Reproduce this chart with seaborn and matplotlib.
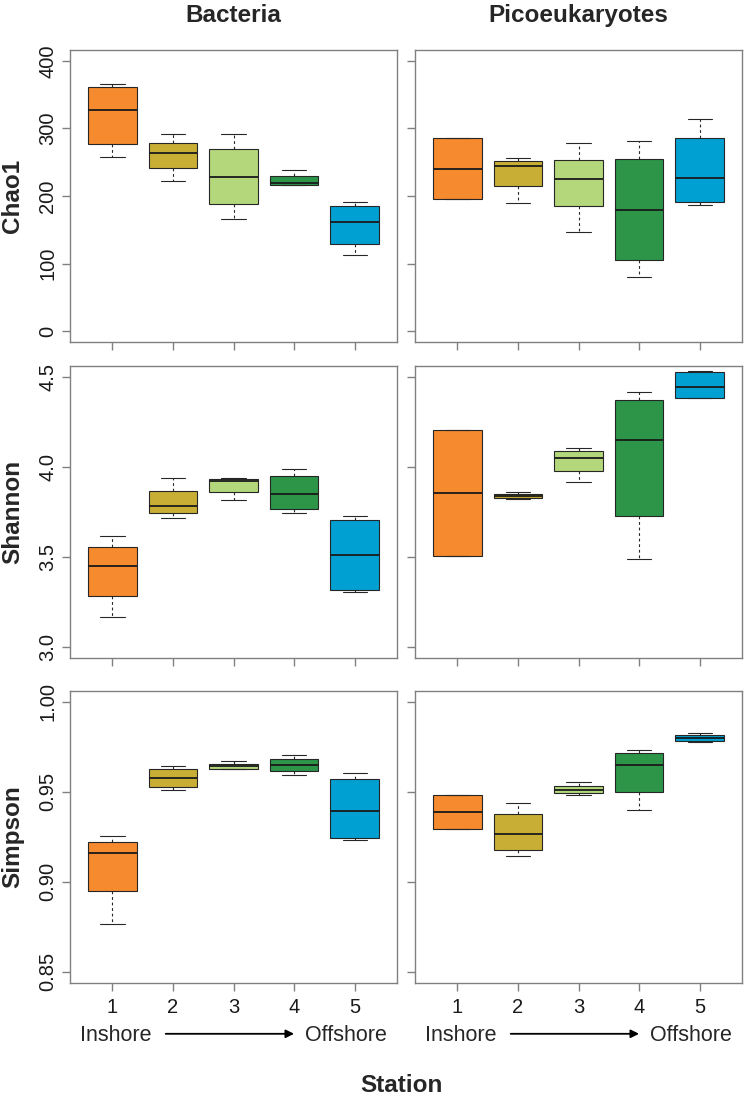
import matplotlib
matplotlib.use("Agg")
import matplotlib.pyplot as plt
import seaborn as sns
import pandas as pd

stations = ["1", "2", "3", "4", "5"]
station_colors = ["#F58A2E", "#C9AE35", "#B3D77A", "#2C9548", "#00A0D2"]
groups = ["Bacteria", "Picoeukaryotes"]
indices = ["Chao1", "Shannon", "Simpson"]

# per station: min, Q1, median, Q3, max
chao1_bacteria = [
    [257.6, 277.0, 327.6, 361.0, 365.5],
    [221.7, 241.0, 263.5, 278.0, 291.0],
    [166.5, 187.7, 228.6, 270.0, 291.6],
    [216.5, 216.7, 219.0, 230.0, 239.0],
    [112.8, 128.6, 161.6, 185.0, 190.6],
]
chao1_pico = [
    [195.6, 195.6, 240.4, 285.7, 285.7],
    [190.0, 215.3, 244.8, 252.0, 256.7],
    [146.3, 184.7, 225.0, 253.0, 278.8],
    [80.3, 105.0, 178.8, 254.7, 280.8],
    [186.2, 190.6, 227.0, 286.0, 314.3],
]
shannon_bacteria = [
    [3.167, 3.285, 3.450, 3.554, 3.617],
    [3.717, 3.746, 3.785, 3.867, 3.939],
    [3.815, 3.859, 3.920, 3.935, 3.937],
    [3.744, 3.765, 3.850, 3.952, 3.987],
    [3.304, 3.320, 3.511, 3.707, 3.726],
]
shannon_pico = [
    [3.507, 3.507, 3.854, 4.203, 4.203],
    [3.821, 3.830, 3.841, 3.852, 3.863],
    [3.919, 3.978, 4.052, 4.090, 4.107],
    [3.491, 3.727, 4.148, 4.373, 4.413],
    [4.380, 4.380, 4.446, 4.524, 4.535],
]
simpson_bacteria = [
    [0.8768, 0.8949, 0.9160, 0.9219, 0.9252],
    [0.9510, 0.9525, 0.9573, 0.9625, 0.9640],
    [0.9627, 0.9627, 0.9642, 0.9655, 0.9670],
    [0.9590, 0.9616, 0.9649, 0.9682, 0.9706],
    [0.9230, 0.9245, 0.9390, 0.9568, 0.9605],
]
simpson_pico = [
    [0.9293, 0.9293, 0.9389, 0.9483, 0.9483],
    [0.9143, 0.9178, 0.9267, 0.9374, 0.9437],
    [0.9481, 0.9492, 0.9510, 0.9529, 0.9551],
    [0.9396, 0.9499, 0.9649, 0.9712, 0.9730],
    [0.9777, 0.9780, 0.9799, 0.9813, 0.9823],
]

panel_data = {
    ("Chao1", "Bacteria"): chao1_bacteria,
    ("Chao1", "Picoeukaryotes"): chao1_pico,
    ("Shannon", "Bacteria"): shannon_bacteria,
    ("Shannon", "Picoeukaryotes"): shannon_pico,
    ("Simpson", "Bacteria"): simpson_bacteria,
    ("Simpson", "Picoeukaryotes"): simpson_pico,
}

y_ticks = {
    "Chao1": [0, 100, 200, 300, 400],
    "Shannon": [3.0, 3.5, 4.0, 4.5],
    "Simpson": [0.85, 0.90, 0.95, 1.00],
}
y_ticklabels = {
    "Chao1": ["0", "100", "200", "300", "400"],
    "Shannon": ["3.0", "3.5", "4.0", "4.5"],
    "Simpson": ["0.85", "0.90", "0.95", "1.00"],
}

rows = []
for (index, group), summary in panel_data.items():
    for st, vals in zip(stations, summary):
        for v in vals:
            rows.append({"index": index, "group": group, "station": st, "value": v})
df = pd.DataFrame(rows)

sns.set_style("ticks")
plt.rcParams["font.family"] = ["Liberation Sans", "DejaVu Sans"]

fig = plt.figure(figsize=(7.44, 10.99), dpi=100)

col_left = [70 / 744, 415 / 744]
col_width = 327 / 744
row_bottom = [1 - 342 / 1099, 1 - 658 / 1099, 1 - 982.7 / 1099]
row_height = 292 / 1099
frame_grey = "#808080"

for r, index in enumerate(indices):
    for c, group in enumerate(groups):
        ax = fig.add_axes([col_left[c], row_bottom[r], col_width, row_height])
        sub = df[(df["index"] == index) & (df["group"] == group)]
        sns.boxplot(
            data=sub, x="station", y="value", hue="station",
            order=stations, hue_order=stations, palette=station_colors,
            saturation=1, width=0.8, whis=(0, 100), legend=False,
            linecolor="#262626", linewidth=0.8, ax=ax,
            whiskerprops=dict(linestyle=(0, (2.5, 2.5))),
            medianprops=dict(color="#1a1a1a", linewidth=1.3),
        )
        lo, hi = y_ticks[index][0], y_ticks[index][-1]
        pad = (hi - lo) * 0.04
        ax.set_ylim(lo - pad, hi + pad)
        ax.set_xlim(-0.7, 4.7)
        ax.set_yticks(y_ticks[index])
        ax.set_xlabel("")
        ax.set_ylabel("")
        for sp in ax.spines.values():
            sp.set_visible(True)
            sp.set_color(frame_grey)
            sp.set_linewidth(1.0)
        ax.tick_params(colors=frame_grey, labelcolor="#1a1a1a",
                       length=6, width=1.0, labelsize=14.5, pad=3)
        if c == 0:
            ax.set_yticklabels(y_ticklabels[index], rotation=90, va="center")
            fig.text(13 / 744, row_bottom[r] + row_height / 2, index,
                     rotation=90, ha="center", va="center",
                     fontsize=17.5, fontweight="bold")
        else:
            ax.set_yticklabels([])
        if r == 2:
            ax.set_xticks(range(5))
            ax.set_xticklabels(stations)
            ax.tick_params(axis="x", pad=5)
            trans = ax.get_xaxis_transform()
            ax.text(0.05, -0.18, "Inshore", transform=trans, ha="center",
                    va="center", fontsize=15.5, clip_on=False)
            ax.text(3.86, -0.18, "Offshore", transform=trans, ha="center",
                    va="center", fontsize=15.5, clip_on=False)
            ax.annotate("", xy=(3.0, -0.175), xytext=(0.88, -0.175),
                        xycoords=trans, textcoords=trans, annotation_clip=False,
                        arrowprops=dict(arrowstyle="-|>", color="black",
                                        lw=1.3, mutation_scale=12,
                                        shrinkA=0, shrinkB=0))
        else:
            ax.set_xticks(range(5))
            ax.set_xticklabels([])
        if r == 0:
            ax.set_title(group, fontsize=17.5, fontweight="bold", pad=20)

fig.text(401 / 744, 1 - 1086 / 1099, "Station", ha="center", va="center",
         fontsize=17.5, fontweight="bold")

fig.savefig("out.png", dpi=100)
